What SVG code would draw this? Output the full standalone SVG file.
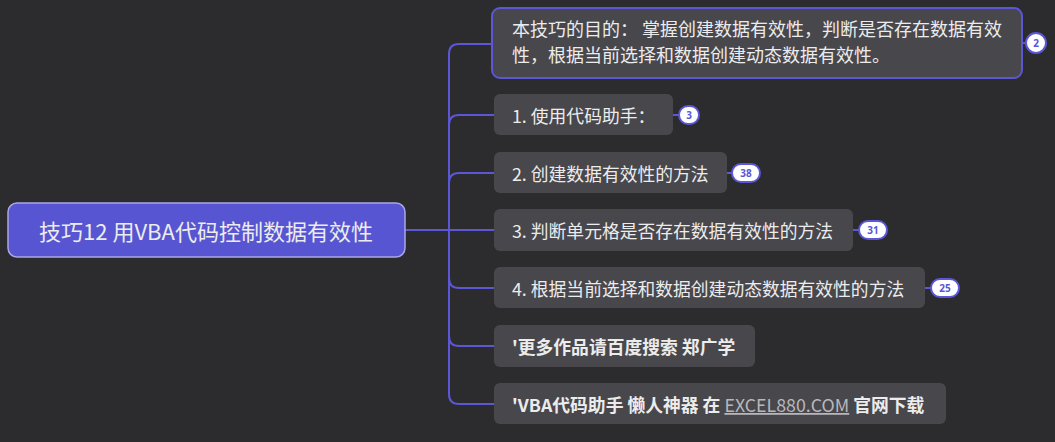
<svg xmlns="http://www.w3.org/2000/svg" width="1055" height="442" viewBox="0 0 1055 442">
<style>
.t{font-family:"Noto Sans CJK SC","Noto Sans",sans-serif;fill:#ececec;dominant-baseline:central;font-size:17.8px}
.n{fill:#48474c}
.c{fill:none;stroke:#5b57d6;stroke-width:2}
.b{fill:#ffffff;stroke:#5b57d6;stroke-width:2}
.bt{font-family:"Noto Sans","DejaVu Sans",sans-serif;font-size:10px;font-weight:bold;fill:#5b57d6;text-anchor:middle;dominant-baseline:central}
</style>
<rect width="1055" height="442" fill="#2c2c2f"/>
<g id="connectors">
<path class="c" d="M405,230 H449"/>
<path class="c" d="M449,230 V54 Q449,44 459,44 H492"/>
<path class="c" d="M449,230 V125 Q449,115 459,115 H494"/>
<path class="c" d="M449,230 V183 Q449,173 459,173 H494"/>
<path class="c" d="M449,230 H494"/>
<path class="c" d="M449,230 V278 Q449,288 459,288 H494"/>
<path class="c" d="M449,230 V336 Q449,346 459,346 H494"/>
<path class="c" d="M449,230 V394 Q449,404 459,404 H494"/>
<path class="c" d="M1022,43 H1026"/>
<path class="c" d="M673,115 H679"/>
<path class="c" d="M727,173 H732"/>
<path class="c" d="M853,230 H859"/>
<path class="c" d="M925,288 H931"/>
</g>
<g id="root">
<rect x="8" y="203" width="397" height="54" rx="9" fill="#5855d3" stroke="#a9a7e6" stroke-width="1.5"/>
<text class="t" x="206" y="230" style="font-size:22px" text-anchor="middle" fill="#ffffff">技巧12 用VBA代码控制数据有效性</text>
</g>
<g id="purpose">
<rect x="492" y="8" width="530" height="70" rx="8" fill="#48474c" stroke="#5b57d6" stroke-width="2"/>
<text class="t" x="512" y="28" style="font-size:18px">本技巧的目的： 掌握创建数据有效性，判断是否存在数据有效</text>
<text class="t" x="512" y="54" style="font-size:18px">性，根据当前选择和数据创建动态数据有效性。</text>
<rect class="b" x="1026" y="33" width="20" height="20" rx="10"/>
<text class="bt" x="1036" y="43">2</text>
</g>
<g id="n1">
<rect class="n" x="494" y="94" width="179" height="41" rx="6"/>
<text class="t" x="512" y="115">1. 使用代码助手：</text>
<rect class="b" x="679" y="106" width="20" height="18" rx="9"/>
<text class="bt" x="689" y="115">3</text>
</g>
<g id="n2">
<rect class="n" x="494" y="152" width="233" height="41" rx="6"/>
<text class="t" x="512" y="173">2. 创建数据有效性的方法</text>
<rect class="b" x="732" y="164" width="28" height="18" rx="9"/>
<text class="bt" x="746" y="173">38</text>
</g>
<g id="n3">
<rect class="n" x="494" y="209" width="359" height="42" rx="6"/>
<text class="t" x="512" y="230">3. 判断单元格是否存在数据有效性的方法</text>
<rect class="b" x="859" y="221" width="28" height="18" rx="9"/>
<text class="bt" x="873" y="230">31</text>
</g>
<g id="n4">
<rect class="n" x="494" y="267" width="431" height="41" rx="6"/>
<text class="t" x="512" y="288">4. 根据当前选择和数据创建动态数据有效性的方法</text>
<rect class="b" x="931" y="279" width="28" height="18" rx="9"/>
<text class="bt" x="945" y="288">25</text>
</g>
<g id="n5">
<rect class="n" x="494" y="325" width="261" height="42" rx="6"/>
<text class="t" x="512" y="346" font-weight="bold">'更多作品请百度搜索 郑广学</text>
</g>
<g id="n6">
<rect class="n" x="494" y="383" width="452" height="41" rx="6"/>
<text class="t" x="512" y="404" font-weight="bold">'VBA代码助手 懒人神器 在 <tspan font-weight="normal" fill="#b8b8bc" text-decoration="underline">EXCEL880.COM</tspan> 官网下载</text>
</g>
</svg>
